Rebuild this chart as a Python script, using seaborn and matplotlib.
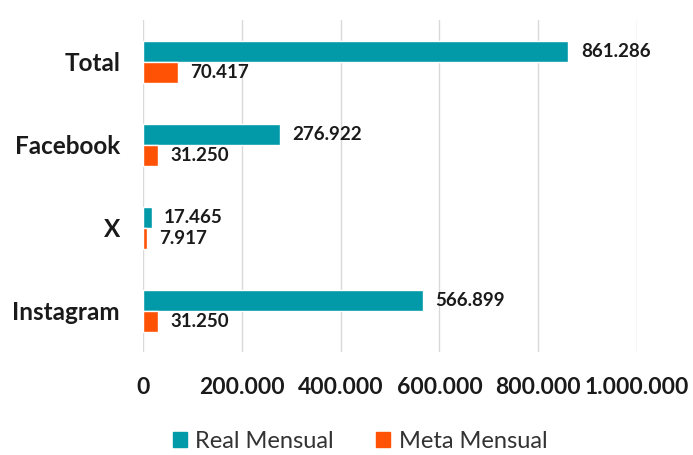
import pandas as pd
import matplotlib
matplotlib.use('Agg')
import matplotlib.pyplot as plt
import seaborn as sns

# Chart data
categories = ['Total', 'Facebook', 'X', 'Instagram']
real_mensual = [861286, 276922, 17465, 566899]
meta_mensual = [70417, 31250, 7917, 31250]
series_names = ['Real Mensual', 'Meta Mensual']
x_ticks = [0, 200000, 400000, 600000, 800000, 1000000]

COLORS = ['#029AA8', '#FF5204']


def br_fmt(v):
    return f'{int(v):,}'.replace(',', '.')


def main():
    df = pd.DataFrame({
        'categoria': categories * 2,
        'valor': real_mensual + meta_mensual,
        'serie': [series_names[0]] * len(categories) + [series_names[1]] * len(categories),
    })

    sns.set_style('white')
    plt.rcParams['font.family'] = ['Lato', 'DejaVu Sans']

    fig = plt.figure(figsize=(6.93, 4.55), dpi=100)
    ax = fig.add_axes([0.2063, 0.2253, 0.9192 - 0.2063, 0.955 - 0.2253])

    sns.barplot(data=df, y='categoria', x='valor', hue='serie',
                order=categories, hue_order=series_names,
                palette=COLORS, orient='h', width=0.51,
                saturation=1, ax=ax, legend=False)

    for cont, vals in zip(ax.containers, [real_mensual, meta_mensual]):
        ax.bar_label(cont, labels=[br_fmt(v) for v in vals], padding=9,
                     fontsize=13.5, fontweight='bold', color='#1a1a1a')

    ax.set_xlim(0, 1000000)
    ax.set_xticks(x_ticks)
    ax.set_xticklabels([br_fmt(t) for t in x_ticks], fontsize=16.5,
                       fontweight='bold', color='#1a1a1a')
    ax.tick_params(axis='x', length=0, pad=18)
    ax.tick_params(axis='y', length=0, pad=16.5, labelsize=17.5)
    for lbl in ax.get_yticklabels():
        lbl.set_fontweight('bold')
        lbl.set_color('#1a1a1a')
    ax.set_xlabel('')
    ax.set_ylabel('')
    ax.xaxis.grid(True, color='#d9d9d9', lw=1)
    ax.set_axisbelow(True)
    for s in ax.spines.values():
        s.set_visible(False)

    handles = [plt.Rectangle((0, 0), 1, 1, color=c) for c in COLORS]
    fig.legend(handles, series_names, loc='center',
               bbox_to_anchor=(360 / 693, 1 - 441 / 455), ncol=2,
               frameon=False, fontsize=17, handlelength=0.6,
               handleheight=0.6, handletextpad=0.35, columnspacing=1.8,
               labelcolor='#333333')

    fig.savefig('out.png', dpi=100)


if __name__ == '__main__':
    main()
